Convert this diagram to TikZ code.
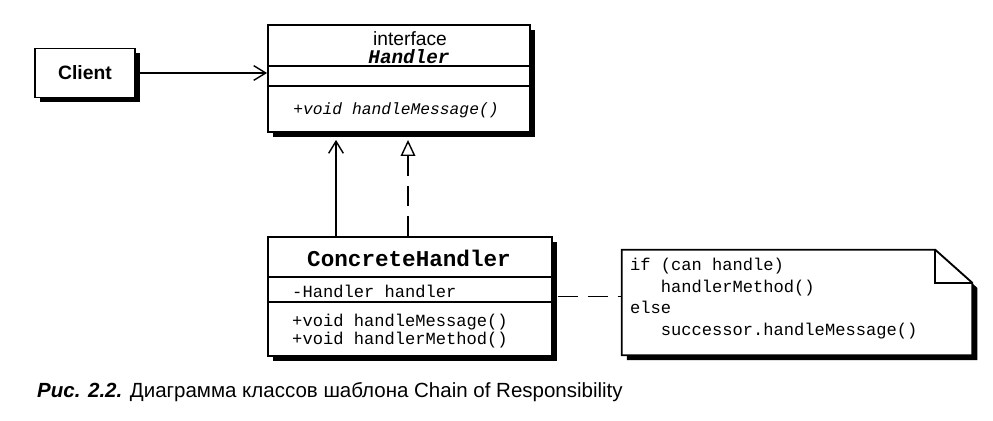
\documentclass[tikz,border=0pt]{standalone}
\usepackage{fontspec}
\setmainfont{Liberation Sans}
\setmonofont{Liberation Mono}
\usepackage{tikz}
\usetikzlibrary{arrows.meta,positioning,shadows}

\begin{document}
\begin{tikzpicture}[
    x=0.3mm, y=-0.3mm,
    frame/.style={draw, line width=1.6pt, fill=white, drop shadow={shadow xshift=1.4mm, shadow yshift=-1.4mm, fill=black, opacity=1}},
    member/.style={font=\fontsize{14.6}{18}\selectfont\ttfamily, anchor=west, inner sep=0pt},
    divider/.style={line width=1.3pt},
    arrow/.style={-{Straight Barb[length=3.6mm, width=4.4mm]}, line width=1.2pt},
    realize/.style={-{Triangle[open, length=4.8mm, width=4.4mm]}, line width=1.2pt, dash pattern=on 6mm off 3mm},
    link/.style={line width=1.2pt, dash pattern=on 6mm off 3mm}
  ]
  \useasboundingbox (0,0) rectangle (993,421);

  % Client
  \node[frame, minimum width=30mm, minimum height=14.7mm, font=\fontsize{16.5}{20}\selectfont\bfseries] (client) at (85,73) {Client};

  % Handler interface
  \node[frame, minimum width=78.6mm, minimum height=32.1mm] (handler) at (399,78.5) {};
  \node[inner sep=0pt, font=\fontsize{16.4}{20}\selectfont] (handler_kind) at (410,39) {interface};
  \node[inner sep=0pt, font=\fontsize{16.5}{18}\selectfont\ttfamily\bfseries\itshape] (handler_title) at (409,58) {\underline{Handler}};
  \draw[divider] ([yshift=-12.6mm]handler.north west) -- ([yshift=-12.6mm]handler.north east);
  \draw[divider] ([yshift=-18.6mm]handler.north west) -- ([yshift=-18.6mm]handler.north east);
  \node[member, anchor=center, font=\fontsize{13.9}{17}\selectfont\ttfamily\itshape] (handler_op) at (396,110) {+void handleMessage()};

  % ConcreteHandler
  \node[frame, minimum width=85.2mm, minimum height=35.7mm] (chandler) at (410,296.5) {};
  \node[inner sep=0pt, font=\fontsize{19.3}{23}\selectfont\ttfamily\bfseries] (chandler_name) at (409,258) {ConcreteHandler};
  \draw[divider] ([yshift=-12.3mm]chandler.north west) -- ([yshift=-12.3mm]chandler.north east);
  \draw[divider] ([yshift=-19.8mm]chandler.north west) -- ([yshift=-19.8mm]chandler.north east);
  \node[member] (chandler_field) at (292,291) {-Handler handler};
  \node[member] (chandler_op1) at (292,322) {+void handleMessage()};
  \node[member] (chandler_op2) at (292,340) {+void handlerMethod()};

  % Note
  \node[minimum width=105mm, minimum height=31.5mm] (note) at (797,302.5) {};
  \fill ([shift={(5,5)}]note.north west) -- ([shift={(5,5)}, xshift=-11.1mm]note.north east)
    -- ([shift={(5,5)}, yshift=-9.9mm]note.north east) -- ([shift={(5,5)}]note.south east)
    -- ([shift={(5,5)}]note.south west) -- cycle;
  \draw[line width=1.6pt, fill=white] (note.north west) -- ([xshift=-11.1mm]note.north east)
    -- ([yshift=-9.9mm]note.north east) -- (note.south east) -- (note.south west) -- cycle;
  \draw[line width=1.6pt] ([xshift=-11.1mm]note.north east) |- ([yshift=-9.9mm]note.north east);
  \node[anchor=west, align=left, inner sep=0pt, font=\fontsize{14.6}{18.5}\selectfont\ttfamily] (note_text) at ([xshift=2.4mm, yshift=1.2mm]note.west)
    {if (can handle)\\\hspace*{1.8em}handlerMethod()\\else\\\hspace*{1.8em}successor.handleMessage()};

  % Connections
  \coordinate (assoc_start) at ([xshift=-22.2mm]chandler.north);
  \coordinate (realize_start) at ([xshift=-0.6mm]chandler.north);
  \draw[arrow] (client) -- (client -| handler.west);
  \draw[arrow, shorten >=2.1mm] (assoc_start) -- (assoc_start |- handler.south);
  \draw[realize, shorten >=2.1mm] (realize_start) -- (realize_start |- handler.south);
  \draw[link] ([xshift=1.4mm]chandler.east) -- (note.west |- chandler.east);

  % Caption
  \node[anchor=west, inner sep=0pt, font=\fontsize{17.5}{20}\selectfont] (caption) at (37,392)
    {\textbf{\textit{Рис. 2.2.}} Диаграмма классов шаблона Chain of Responsibility};
\end{tikzpicture}
\end{document}
